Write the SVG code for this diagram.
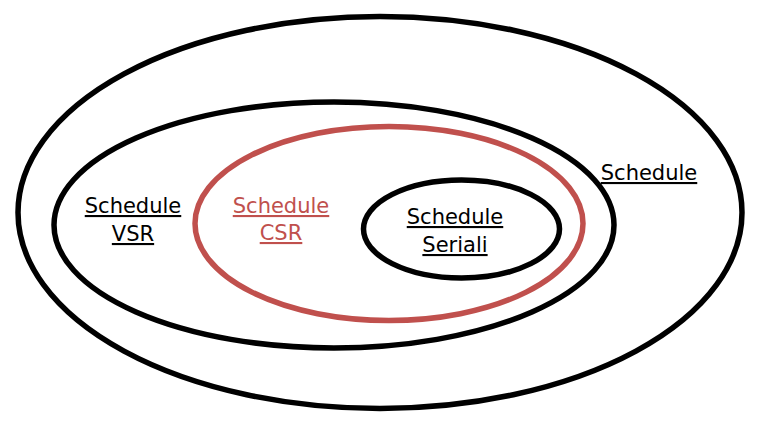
<svg xmlns="http://www.w3.org/2000/svg" width="768" height="423" viewBox="0 0 768 423">
<style>
.ring{fill:none;stroke:#000;stroke-width:5.5}
.red{stroke:#C0504D}
.lbl{font-family:"DejaVu Sans","Noto Sans",sans-serif;font-size:21px;text-anchor:middle;text-decoration:underline;fill:#000}
.lbl.r{fill:#C0504D}
</style>
<rect width="768" height="423" fill="#fff"/>
<g id="schedule">
<ellipse class="ring" cx="380" cy="212.5" rx="362" ry="196"/>
<text class="lbl" x="649" y="180">Schedule</text>
</g>
<g id="schedule-vsr">
<ellipse class="ring" cx="334" cy="225" rx="280" ry="123"/>
<text class="lbl" x="133" y="213">Schedule</text>
<text class="lbl" x="133" y="241">VSR</text>
</g>
<g id="schedule-csr">
<ellipse class="ring red" cx="389" cy="223.5" rx="194" ry="97"/>
<text class="lbl r" x="281" y="213">Schedule</text>
<text class="lbl r" x="281" y="240">CSR</text>
</g>
<g id="schedule-seriali">
<ellipse class="ring" cx="461.5" cy="229" rx="98" ry="49"/>
<text class="lbl" x="455" y="224">Schedule</text>
<text class="lbl" x="455" y="252">Seriali</text>
</g>
<g id="connectors"/>
</svg>
